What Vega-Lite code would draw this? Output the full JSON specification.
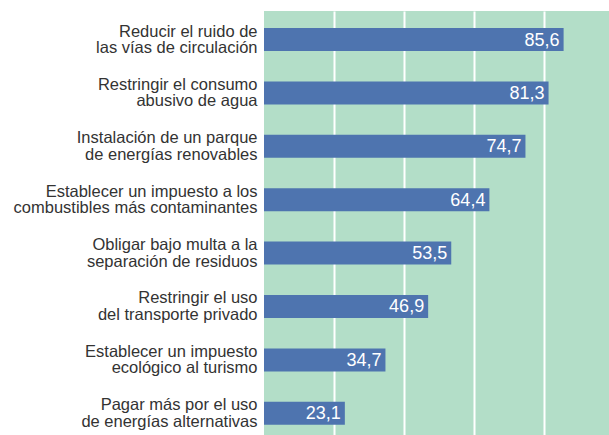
{
  "$schema": "https://vega.github.io/schema/vega-lite/v6.json",
  "width": 345,
  "height": 424,
  "autosize": {"type": "none"},
  "padding": {"left": 264, "top": 11, "right": 0, "bottom": 0},
  "config": {
    "view": {"fill": "#b3dec8", "stroke": null},
    "locale": {"number": {"decimal": ",", "thousands": ".", "grouping": [3], "currency": ["", " €"]}}
  },
  "data": {
    "values": [
      {"medida": "Reducir el ruido de|las vías de circulación", "valor": 85.6},
      {"medida": "Restringir el consumo|abusivo de agua", "valor": 81.3},
      {"medida": "Instalación de un parque|de energías renovables", "valor": 74.7},
      {"medida": "Establecer un impuesto a los|combustibles más contaminantes", "valor": 64.4},
      {"medida": "Obligar bajo multa a la|separación de residuos", "valor": 53.5},
      {"medida": "Restringir el uso|del transporte privado", "valor": 46.9},
      {"medida": "Establecer un impuesto|ecológico al turismo", "valor": 34.7},
      {"medida": "Pagar más por el uso|de energías alternativas", "valor": 23.1}
    ]
  },
  "encoding": {
    "y": {
      "field": "medida",
      "type": "nominal",
      "sort": null,
      "scale": {"paddingInner": 0.569, "paddingOuter": 0.255, "align": 0.625},
      "axis": {
        "title": null,
        "domain": false,
        "ticks": false,
        "labelExpr": "split(datum.label, '|')",
        "labelFont": "Liberation Sans",
        "labelFontSize": 16.5,
        "labelLineHeight": 16.5,
        "labelColor": "#333333",
        "labelPadding": 7,
        "labelLimit": 0,
        "labelAlign": "right",
        "labelBaseline": "middle",
        "labelOffset": -8
      }
    },
    "x": {
      "field": "valor",
      "type": "quantitative",
      "scale": {"domain": [0, 98.57], "nice": false, "zero": true},
      "axis": {
        "title": null,
        "values": [20, 40, 60, 80],
        "labels": false,
        "ticks": false,
        "domain": false,
        "grid": true,
        "gridColor": "#ffffff",
        "gridWidth": 2,
        "gridOpacity": 1
      }
    }
  },
  "layer": [
    {"mark": {"type": "bar", "color": "#4e74af"}},
    {
      "mark": {
        "type": "text",
        "align": "right",
        "baseline": "middle",
        "dx": -4,
        "dy": 1,
        "color": "#ffffff",
        "font": "Liberation Sans",
        "fontSize": 18
      },
      "encoding": {"text": {"field": "valor", "type": "quantitative", "format": ".1f"}}
    }
  ]
}
